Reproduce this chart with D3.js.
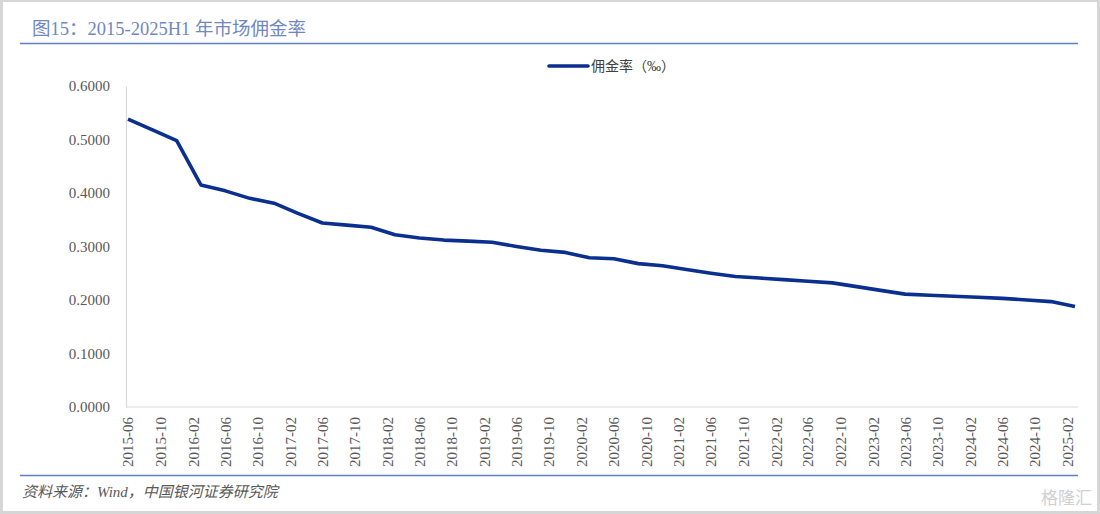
<!DOCTYPE html>
<html>
<head>
<meta charset="utf-8">
<script src="https://cdn.jsdelivr.net/npm/d3@7"></script>
<style>
  body { margin: 0; background: #d6d6d6; }
  svg { display: block; }
</style>
</head>
<body>
<div id="chart"></div>
<script>
// quarterly commission rate (‰)
const months = [
    "2015-06", "2015-09", "2015-12", "2016-03", "2016-06", "2016-09", "2016-12",
    "2017-03", "2017-06", "2017-09", "2017-12", "2018-03", "2018-06", "2018-09", "2018-12",
    "2019-03", "2019-06", "2019-09", "2019-12", "2020-03", "2020-06", "2020-09", "2020-12",
    "2021-03", "2021-06", "2021-09", "2021-12", "2022-03", "2022-06", "2022-09", "2022-12",
    "2023-03", "2023-06", "2023-09", "2023-12", "2024-03", "2024-06", "2024-09", "2024-12",
    "2025-03"
];
const rates = [
    0.538, 0.518, 0.498, 0.415, 0.404, 0.390, 0.381,
    0.362, 0.344, 0.340, 0.336, 0.322, 0.316, 0.312, 0.310,
    0.308, 0.300, 0.293, 0.289, 0.279, 0.277, 0.268, 0.264,
    0.257, 0.250, 0.244, 0.241, 0.238, 0.235, 0.232, 0.225,
    0.218, 0.211, 0.209, 0.207, 0.205, 0.203, 0.200, 0.197,
    0.188
];
const xTickLabels = [
    "2015-06", "2015-10", "2016-02", "2016-06", "2016-10", "2017-02", "2017-06", "2017-10",
    "2018-02", "2018-06", "2018-10", "2019-02", "2019-06", "2019-10", "2020-02", "2020-06",
    "2020-10", "2021-02", "2021-06", "2021-10", "2022-02", "2022-06", "2022-10", "2023-02",
    "2023-06", "2023-10", "2024-02", "2024-06", "2024-10", "2025-02"
];
const yTicks = [0, 0.1, 0.2, 0.3, 0.4, 0.5, 0.6];
const seriesName = "佣金率（‰）";

const width = 1100;
const height = 514;
const serif = "'Liberation Serif', 'DejaVu Serif', 'Noto Sans CJK SC', serif";

const parseMonth = d3.timeParse("%Y-%m");
const data = months.map((m, i) => ({ date: parseMonth(m), value: rates[i] }));

const svg = d3.select("#chart")
    .append("svg")
    .attr("width", width)
    .attr("height", height);

// white page inside the grey frame
svg.append("rect")
    .attr("x", 3).attr("y", 2)
    .attr("width", 1094).attr("height", 509)
    .attr("fill", "#fff");

// title + rule
svg.append("text")
    .attr("x", 32)
    .attr("y", 35)
    .style("font-family", serif)
    .style("font-size", "18.5px")
    .style("fill", "#7088bf")
    .text("图15：2015-2025H1 年市场佣金率");

svg.append("line")
    .attr("x1", 20).attr("x2", 1078)
    .attr("y1", 43.5).attr("y2", 43.5)
    .attr("stroke", "#5f7fbf")
    .attr("stroke-width", 1.5);

const xScale = d3.scaleTime()
    .domain([data[0].date, data[data.length - 1].date])
    .range([128, 1075]);

const yScale = d3.scaleLinear()
    .domain([0, 0.6])
    .range([407, 86]);

// y axis
const yAxis = svg.append("g")
    .attr("transform", "translate(126,0)")
    .call(d3.axisLeft(yScale).tickValues(yTicks).tickFormat(d3.format(".4f")).tickSize(0).tickPadding(16));

yAxis.select(".domain").attr("stroke", "#d9d9d9").attr("stroke-width", 1.2);
yAxis.selectAll("text")
    .style("font-family", serif)
    .style("font-size", "15px")
    .style("fill", "#595959");

// x axis
const xAxis = svg.append("g")
    .attr("transform", "translate(0,407)")
    .call(d3.axisBottom(xScale).tickValues(xTickLabels.map(parseMonth)).tickFormat(d3.timeFormat("%Y-%m")).tickSize(0));

xAxis.select(".domain")
    .attr("d", "M126,0H1078")
    .attr("stroke", "#d9d9d9")
    .attr("stroke-width", 1.2);
xAxis.selectAll("text")
    .attr("transform", "rotate(-90)")
    .attr("text-anchor", "end")
    .attr("x", -10)
    .attr("y", 0)
    .attr("dy", "0.33em")
    .style("font-family", serif)
    .style("font-size", "15px")
    .style("fill", "#595959");

// series line
const line = d3.line()
    .x(d => xScale(d.date))
    .y(d => yScale(d.value));

svg.append("path")
    .datum(data)
    .attr("d", line)
    .attr("fill", "none")
    .attr("stroke", "#0a2f8f")
    .attr("stroke-width", 3.6)
    .attr("stroke-linejoin", "round");

// legend
svg.append("line")
    .attr("x1", 549).attr("x2", 588)
    .attr("y1", 66).attr("y2", 66)
    .attr("stroke", "#0a2f8f")
    .attr("stroke-width", 3.6)
    .attr("stroke-linecap", "round");

svg.append("text")
    .attr("x", 591)
    .attr("y", 71)
    .style("font-family", serif)
    .style("font-size", "14px")
    .style("fill", "#404040")
    .text(seriesName);

// bottom rule + source
svg.append("line")
    .attr("x1", 20).attr("x2", 1078)
    .attr("y1", 475.5).attr("y2", 475.5)
    .attr("stroke", "#5f7fbf")
    .attr("stroke-width", 1.5);

svg.append("text")
    .attr("x", 22)
    .attr("y", 497)
    .style("font-family", serif)
    .style("font-size", "15px")
    .style("font-style", "italic")
    .style("fill", "#595959")
    .text("资料来源：Wind，中国银河证券研究院");

// watermark
svg.append("text")
    .attr("x", 1092)
    .attr("y", 504)
    .attr("text-anchor", "end")
    .style("font-family", "'Noto Sans CJK SC', sans-serif")
    .style("font-size", "17px")
    .style("fill", "#d0d0d0")
    .text("格隆汇");
</script>
</body>
</html>
